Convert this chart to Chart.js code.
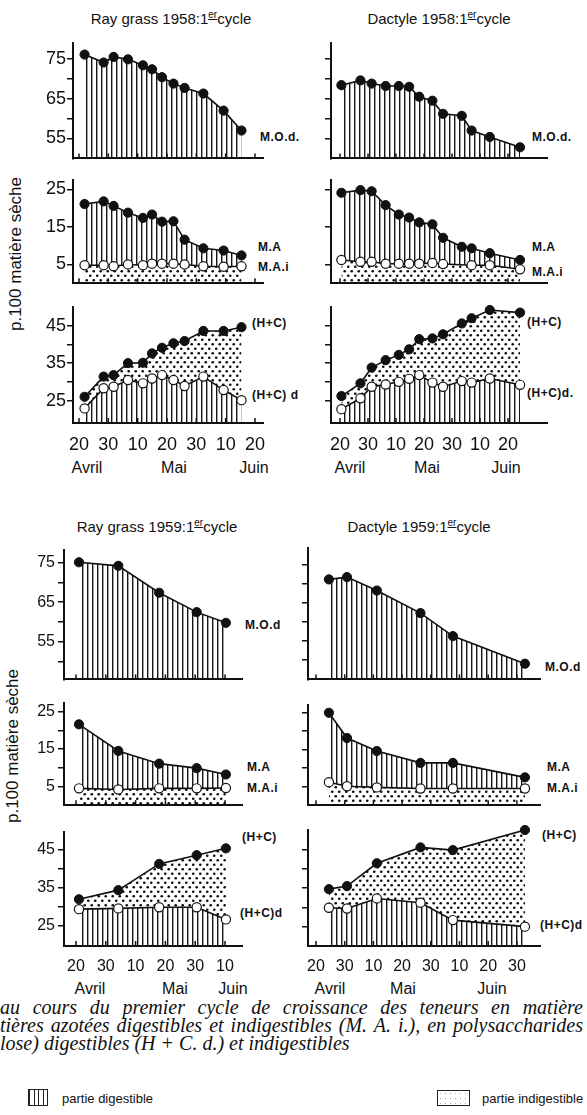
<!DOCTYPE html>
<html lang="fr">
<head>
<meta charset="UTF-8">
<title>Premier cycle de croissance - Ray grass et Dactyle</title>
<script src="https://cdn.jsdelivr.net/npm/chart.js"></script>
<style>
  body {
    margin: 0;
    width: 587px;
    height: 1115px;
    position: relative;
    overflow: hidden;
    background: #fff;
    color: #111;
    font-family: "Liberation Sans", Arial, sans-serif;
  }
  canvas { position: absolute; }
  .t { position: absolute; white-space: nowrap; }
  .title { font-size: 15px; transform: translate(-50%, -50%); }
  .title sup { font-size: 10px; text-decoration: underline; }
  .serie { font-size: 12px; font-weight: bold; transform: translateY(-50%); letter-spacing: 0.5px; }
  .month { font-size: 16px; transform: translate(-50%, -50%); }
  .ylab { font-size: 17px; transform: translate(-50%, -50%) rotate(-90deg); }
  .cap {
    font-family: "Liberation Serif", "DejaVu Serif", serif;
    font-style: italic;
    font-size: 20px;
    left: 0;
    width: 583px;
    line-height: 18px;
  }
  .just { text-align: justify; text-align-last: justify; }
  .leg { font-size: 13px; transform: translateY(-50%); }
  .box { position: absolute; border: 1.5px solid #222; }
</style>
</head>
<body>

<!-- titres -->
<div class="t title" style="left:171px; top:18px">Ray grass 1958:1<sup>er</sup>cycle</div>
<div class="t title" style="left:439px; top:18px">Dactyle 1958:1<sup>er</sup>cycle</div>
<div class="t title" style="left:157px; top:526px">Ray grass 1959:1<sup>er</sup>cycle</div>
<div class="t title" style="left:419px; top:526px">Dactyle 1959:1<sup>er</sup>cycle</div>

<div class="t ylab" style="left:16px; top:254px">p.100 matière sèche</div>
<div class="t ylab" style="left:13px; top:746px">p.100 matière sèche</div>

<!-- noms des courbes -->
<div class="t serie" style="left:260px; top:137px">M.O.d.</div>
<div class="t serie" style="left:258px; top:247px">M.A</div>
<div class="t serie" style="left:258px; top:267px">M.A.i</div>
<div class="t serie" style="left:252px; top:323px">(H+C)</div>
<div class="t serie" style="left:252px; top:395px">(H+C) d</div>

<div class="t serie" style="left:532px; top:137px">M.O.d.</div>
<div class="t serie" style="left:532px; top:247px">M.A</div>
<div class="t serie" style="left:532px; top:272px">M.A.i</div>
<div class="t serie" style="left:527px; top:322px">(H+C)</div>
<div class="t serie" style="left:527px; top:393px">(H+C)d.</div>

<div class="t serie" style="left:245px; top:625px">M.O.d</div>
<div class="t serie" style="left:247px; top:767px">M.A</div>
<div class="t serie" style="left:247px; top:788px">M.A.i</div>
<div class="t serie" style="left:242px; top:837px">(H+C)</div>
<div class="t serie" style="left:240px; top:913px">(H+C)d</div>

<div class="t serie" style="left:545px; top:667px">M.O.d</div>
<div class="t serie" style="left:547px; top:767px">M.A</div>
<div class="t serie" style="left:547px; top:788px">M.A.i</div>
<div class="t serie" style="left:542px; top:835px">(H+C)</div>
<div class="t serie" style="left:540px; top:925px">(H+C)d</div>

<!-- mois -->
<div class="t month" style="left:87px; top:468px">Avril</div>
<div class="t month" style="left:174px; top:468px">Mai</div>
<div class="t month" style="left:254px; top:468px">Juin</div>
<div class="t month" style="left:350px; top:468px">Avril</div>
<div class="t month" style="left:427px; top:468px">Mai</div>
<div class="t month" style="left:506px; top:468px">Juin</div>

<div class="t month" style="left:90px; top:989px">Avril</div>
<div class="t month" style="left:175px; top:989px">Mai</div>
<div class="t month" style="left:233px; top:989px">Juin</div>
<div class="t month" style="left:330px; top:989px">Avril</div>
<div class="t month" style="left:403px; top:989px">Mai</div>
<div class="t month" style="left:492px; top:989px">Juin</div>

<!-- légende du texte -->
<div class="t cap just" style="top:998px">au cours du premier cycle de croissance des teneurs en matière</div>
<div class="t cap just" style="top:1016px">tières azotées digestibles et indigestibles (<i>M. A. i.</i>), en polysaccharides</div>
<div class="t cap" style="top:1034px">lose) digestibles (<i>H</i> + <i>C. d.</i>) et indigestibles</div>

<div class="box" style="left:28px; top:1089px; width:18px; height:15px; background:repeating-linear-gradient(90deg, #222 0 1.3px, transparent 1.3px 4.5px)"></div>
<div class="t leg" style="left:62px; top:1098px">partie digestible</div>
<div class="box" style="left:437px; top:1090px; width:31px; height:14px; border-width:1px; background:radial-gradient(circle, #aaa 0.6px, transparent 0.9px) 0 0/5px 5px"></div>
<div class="t leg" style="left:482px; top:1098px">partie indigestible</div>

<script>
// x = days counted from 20 April (ticks every 10 days)
const xTicks58 = [0, 10, 20, 30, 40, 50, 60];
const xLabels58 = ['20', '30', '10', '20', '30', '10', '20'];
const xTicksRg59 = [0, 10, 20, 30, 40, 50];
const xLabelsRg59 = ['20', '30', '10', '20', '30', '10'];
const xTicksDa59 = [0, 10, 20, 30, 40, 50, 60, 70];
const xLabelsDa59 = ['20', '30', '10', '20', '30', '10', '20', '30'];

const yTicksMOd = [50, 55, 60, 65, 70, 75];
const yLabelsMOd = [55, 65, 75];
const yTicksMA = [5, 10, 15, 20, 25];
const yLabelsMA = [5, 15, 25];
const yTicksHC = [25, 30, 35, 40, 45];
const yLabelsHC = [25, 35, 45];

// Ray grass 1958
const rg58Days = [1.9, 8.4, 11.8, 16.7, 21.8, 24.9, 28.3, 32.2, 36.0, 42.4, 49.3, 55.4];
const rg58MOd = [76.1, 74.1, 75.5, 74.9, 73.4, 72.4, 70.4, 68.8, 67.7, 66.3, 62.0, 57.0];
const rg58MA = [21.1, 21.8, 20.6, 18.8, 17.4, 18.3, 16.4, 16.5, 11.6, 9.3, 8.7, 7.4];
const rg58MAi = [4.8, 4.8, 4.5, 5.0, 4.8, 5.2, 5.2, 5.2, 5.0, 4.5, 4.4, 4.5];
const rg58HC = [26.0, 31.4, 31.8, 35.0, 35.1, 37.6, 39.1, 40.3, 40.9, 43.6, 43.6, 44.6];
const rg58HCd = [22.9, 28.3, 28.7, 30.5, 29.6, 30.9, 31.8, 30.5, 28.9, 31.4, 27.8, 25.1];

// Dactyle 1958
const da58Days = [0.5, 7.3, 11.3, 16.3, 21.0, 24.7, 28.3, 33.0, 36.8, 43.5, 47.0, 53.5, 64.3];
const da58MOd = [68.4, 69.6, 68.8, 68.2, 68.2, 68.0, 65.5, 64.5, 61.2, 60.7, 57.0, 55.4, 52.8];
const da58MA = [24.1, 24.8, 24.5, 20.8, 18.3, 17.5, 16.2, 15.7, 12.1, 9.7, 9.3, 8.0, 6.2];
const da58MAi = [6.2, 5.7, 5.7, 5.2, 5.2, 5.2, 5.2, 5.4, 5.1, null, 4.8, 4.8, 3.7];
const da58HC = [26.2, 29.6, 33.8, 35.8, 37.2, 38.7, 41.4, 41.6, 42.7, 45.6, 47.0, 49.2, 48.5];
const da58HCd = [22.7, 25.6, 28.7, 29.3, 30.0, 30.8, 31.8, 29.8, 28.7, 30.2, 29.8, 30.9, 29.2];

// Ray grass 1959
const rg59Days = [1.0, 14.2, 27.9, 40.5, 50.3];
const rg59MOd = [75.1, 74.2, 67.4, 62.5, 59.8];
const rg59MA = [21.6, 14.5, 11.1, 9.9, 8.2];
const rg59MAi = [4.5, 4.2, 4.5, 4.5, 4.6];
const rg59HC = [32.0, 34.4, 41.3, 43.6, 45.4];
const rg59HCd = [29.4, 29.6, 29.9, 29.9, 26.7];

// Dactyle 1959
const da59Days = [4.5, 10.8, 21.2, 36.4, 47.7, 72.8];
const da59MOd = [71.1, 71.7, 68.2, 62.3, 56.3, 49.1];
const da59MA = [24.9, 18.1, 14.6, 11.4, 11.4, 7.5];
const da59MAi = [6.2, 5.1, 4.8, 4.5, 4.5, 4.5];
const da59HC = [34.7, 35.5, 41.4, 45.5, 44.8, 50.0];
const da59HCd = [29.9, 29.7, 32.3, 31.2, 26.7, 25.0];

const FONT = '"Liberation Sans", Arial, sans-serif';
const INK = '#111';

// fill patterns: vertical hatching (digestible), dots (indigestible)
function makeHatch() {
  const c = document.createElement('canvas');
  c.width = 5; c.height = 4;
  const ctx = c.getContext('2d');
  ctx.fillStyle = '#161616';
  ctx.fillRect(2, 0, 1.4, 4);
  return ctx.createPattern(c, 'repeat');
}
function makeDots() {
  const c = document.createElement('canvas');
  c.width = 7; c.height = 9;
  const ctx = c.getContext('2d');
  ctx.fillStyle = '#0c0c0c';
  [[1.75, 2.25], [5.25, 6.75]].forEach(([x, y]) => {
    ctx.beginPath(); ctx.arc(x, y, 1.3, 0, Math.PI * 2); ctx.fill();
  });
  return ctx.createPattern(c, 'repeat');
}
const hatch = makeHatch();
const dots = makeDots();

// short ticks pointing up from the x axis
const innerTicks = {
  id: 'innerTicks',
  afterDatasetsDraw(chart) {
    const { ctx, chartArea, scales: { x } } = chart;
    ctx.save();
    ctx.strokeStyle = INK;
    ctx.lineWidth = 1.5;
    x.ticks.forEach(t => {
      const px = x.getPixelForValue(t.value);
      ctx.beginPath();
      ctx.moveTo(px, chartArea.bottom);
      ctx.lineTo(px, chartArea.bottom - 5);
      ctx.stroke();
    });
    ctx.restore();
  }
};

function pts(days, vals) {
  return days.map((d, i) => ({ x: d, y: vals[i] }));
}

function lineSet(days, vals, open, fill, bg, order) {
  return {
    data: pts(days, vals),
    borderColor: INK,
    borderWidth: 1.6,
    pointRadius: 4.6,
    pointBorderWidth: open ? 1.2 : 1,
    pointBackgroundColor: open ? '#fff' : INK,
    pointBorderColor: INK,
    fill: fill,
    backgroundColor: bg,
    spanGaps: true,
    tension: 0,
    clip: false,
    order: order
  };
}

const groups = [
  { axisLeft: 73, axisRight: 263, x0px: 79, pxPerDay: 2.933, xTicks: xTicks58, xLabels: xLabels58,
    yLabels: true, fontSize: 18, labelPad: 1,
    days: rg58Days, mod: rg58MOd, ma: rg58MA, mai: rg58MAi, hc: rg58HC, hcd: rg58HCd,
    panels: [{ top: 43, bottom: 162, min: 50, max: 79 },
             { top: 180, bottom: 287, min: 0, max: 27.5 },
             { top: 307, bottom: 423, min: 19, max: 50 }] },
  { axisLeft: 331, axisRight: 547, x0px: 340, pxPerDay: 2.8, xTicks: xTicks58, xLabels: xLabels58,
    yLabels: false, fontSize: 18, labelPad: 1,
    days: da58Days, mod: da58MOd, ma: da58MA, mai: da58MAi, hc: da58HC, hcd: da58HCd,
    panels: [{ top: 43, bottom: 162, min: 50, max: 79 },
             { top: 180, bottom: 287, min: 0, max: 27.5 },
             { top: 307, bottom: 423, min: 19, max: 50 }] },
  { axisLeft: 64, axisRight: 242, x0px: 76, pxPerDay: 2.98, xTicks: xTicksRg59, xLabels: xLabelsRg59,
    yLabels: true, fontSize: 16, labelPad: 3,
    days: rg59Days, mod: rg59MOd, ma: rg59MA, mai: rg59MAi, hc: rg59HC, hcd: rg59HCd,
    panels: [{ top: 550, bottom: 683, min: 45.5, max: 78.2 },
             { top: 703, bottom: 809, min: 0, max: 27.3 },
             { top: 832, bottom: 946, min: 19.7, max: 49.7 }] },
  { axisLeft: 308, axisRight: 540, x0px: 316, pxPerDay: 2.87, xTicks: xTicksDa59, xLabels: xLabelsDa59,
    yLabels: false, fontSize: 16, labelPad: 3,
    days: da59Days, mod: da59MOd, ma: da59MA, mai: da59MAi, hc: da59HC, hcd: da59HCd,
    panels: [{ top: 548, bottom: 683, min: 45, max: 79.3 },
             { top: 705, bottom: 809, min: 0, max: 27 },
             { top: 830, bottom: 946, min: 20, max: 50 }] }
];

function makePanel(g, p, datasets, yTicks, yLab, showX) {
  const YW = 44, PT = 10, PR = 14;
  const XH = showX ? 40 : 2;
  const canvas = document.createElement('canvas');
  canvas.width = g.axisRight - g.axisLeft + YW + PR;
  canvas.height = p.bottom - p.top + PT + XH;
  canvas.style.left = (g.axisLeft - YW) + 'px';
  canvas.style.top = (p.top - PT) + 'px';
  document.body.appendChild(canvas);

  const xMin = (g.axisLeft - g.x0px) / g.pxPerDay;
  const xMax = (g.axisRight - g.x0px) / g.pxPerDay;

  new Chart(canvas, {
    type: 'line',
    data: { datasets: datasets },
    options: {
      responsive: false,
      animation: false,
      events: [],
      layout: { padding: { top: PT, right: PR, left: 0, bottom: 0 } },
      plugins: { legend: { display: false }, tooltip: { enabled: false } },
      scales: {
        x: {
          type: 'linear',
          min: xMin,
          max: xMax,
          afterBuildTicks: s => { s.ticks = g.xTicks.map(v => ({ value: v })); },
          afterFit: s => { s.height = XH; s.paddingLeft = 0; s.paddingRight = 0; },
          grid: { display: false, drawTicks: false },
          border: { display: true, width: 2, color: INK },
          ticks: {
            display: showX,
            autoSkip: false,
            maxRotation: 0,
            padding: 11,
            color: INK,
            font: { family: FONT, size: g.fontSize },
            callback: (v, i) => g.xLabels[i]
          }
        },
        y: {
          type: 'linear',
          min: p.min,
          max: p.max,
          afterBuildTicks: s => {
            s.ticks = yTicks.filter(v => v > p.min + 0.5 && v < p.max).map(v => ({ value: v }));
          },
          afterFit: s => { s.width = YW; s.paddingTop = 0; s.paddingBottom = 0; },
          grid: { drawOnChartArea: false, drawTicks: true, tickLength: 6, color: INK, lineWidth: 1.5 },
          border: { display: true, width: 2, color: INK },
          ticks: {
            padding: g.labelPad,
            color: INK,
            font: { family: FONT, size: g.fontSize },
            callback: v => (g.yLabels && yLab.includes(v)) ? String(v) : ''
          }
        }
      }
    },
    plugins: [innerTicks]
  });
}

groups.forEach(g => {
  const [p1, p2, p3] = g.panels;
  makePanel(g, p1, [lineSet(g.days, g.mod, false, 'start', hatch, 0)], yTicksMOd, yLabelsMOd, false);
  makePanel(g, p2, [
    lineSet(g.days, g.ma, false, '+1', hatch, 1),
    lineSet(g.days, g.mai, true, 'start', dots, 0)
  ], yTicksMA, yLabelsMA, false);
  makePanel(g, p3, [
    lineSet(g.days, g.hc, false, '+1', dots, 1),
    lineSet(g.days, g.hcd, true, 'start', hatch, 0)
  ], yTicksHC, yLabelsHC, true);
});
</script>
</body>
</html>
